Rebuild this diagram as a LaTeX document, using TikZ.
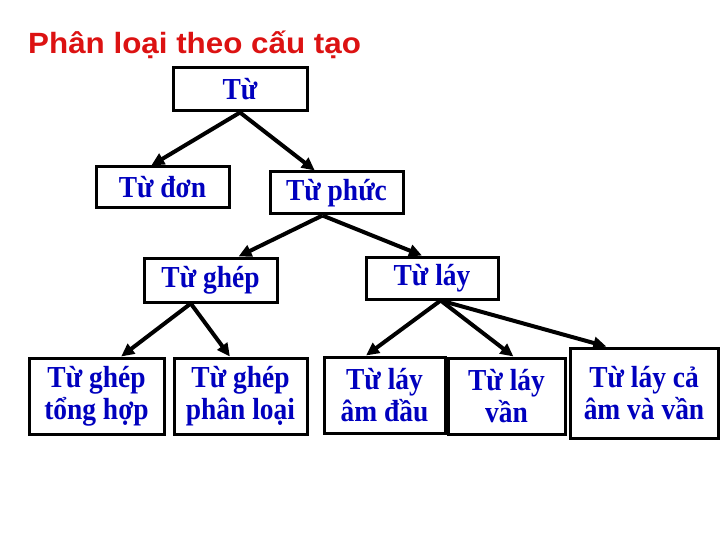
\documentclass[tikz,border=0pt]{standalone}
\usepackage{fontspec}
\usetikzlibrary{arrows.meta}
\setmainfont{Liberation Serif}
\newfontfamily\titlefont[FakeStretch=1.07]{Liberation Sans}
\newfontfamily\boxfont[FakeStretch=0.9]{Liberation Serif}
\definecolor{titlered}{RGB}{220,18,18}
\definecolor{boxblue}{RGB}{0,0,190}
\begin{document}
\begin{tikzpicture}[x=1pt,y=-1pt,
  box/.style={draw,line width=3pt,fill=white,align=center,inner sep=0pt,
    text=boxblue,font=\boxfont\bfseries\fontsize{30.5}{32}\selectfont},
  arrow/.style={line width=4pt,-{Triangle[length=13pt,width=12pt]}}]
\useasboundingbox [fill=white] (0,0) rectangle (720,540);
\node [anchor=base west,inner sep=0pt,text=titlered,
  font=\titlefont\bfseries\fontsize{29.3}{32}\selectfont] (title) at (28,54) {Phân loại theo cấu tạo};
% levels
\node [box,minimum width=134pt,minimum height=43pt] (tu) at (240,89.5) {Từ};
\node [box,minimum width=133pt,minimum height=41pt] (don) at (162.5,187.5) {Từ đơn};
\node [box,minimum width=133pt,minimum height=42pt] (phuc) at (336.5,193) {Từ phức};
\node [box,minimum width=133pt,minimum height=44pt] (ghep) at (210.5,280) {Từ ghép};
\node [box,minimum width=132pt,minimum height=42pt] (lay) at (432,278) {Từ láy};
\node [box,minimum width=135pt,minimum height=76pt] (ghepth) at (96.5,396) {Từ ghép\\tổng hợp};
\node [box,minimum width=133pt,minimum height=76pt] (ghepl) at (240.5,396) {Từ ghép\\phân loại};
\node [box,minimum width=121pt,minimum height=76pt] (layad) at (384.5,395) {Từ láy\\âm đầu};
\node [box,minimum width=117pt,minimum height=76pt] (layv) at (506.5,396) {Từ láy\\vần};
\node [box,minimum width=148pt,minimum height=90pt] (layc) at (644,393) {Từ láy cả\\âm và vần};
% arrows
\draw [arrow] (tu.south) -- (don.117);
\draw [arrow] (tu.south) -- (phuc.134);
\draw [arrow] (phuc.238) -- (ghep.40);
\draw [arrow] (phuc.238) -- (lay.114);
\draw [arrow] (ghep.230) -- (ghepth.58);
\draw [arrow] (ghep.230) -- (ghepl.105);
\draw [arrow] (lay.291) -- (layad.115);
\draw [arrow] (lay.291) -- (layv.80);
\draw [arrow] (lay.291) -- (layc.129);
\end{tikzpicture}
\end{document}
